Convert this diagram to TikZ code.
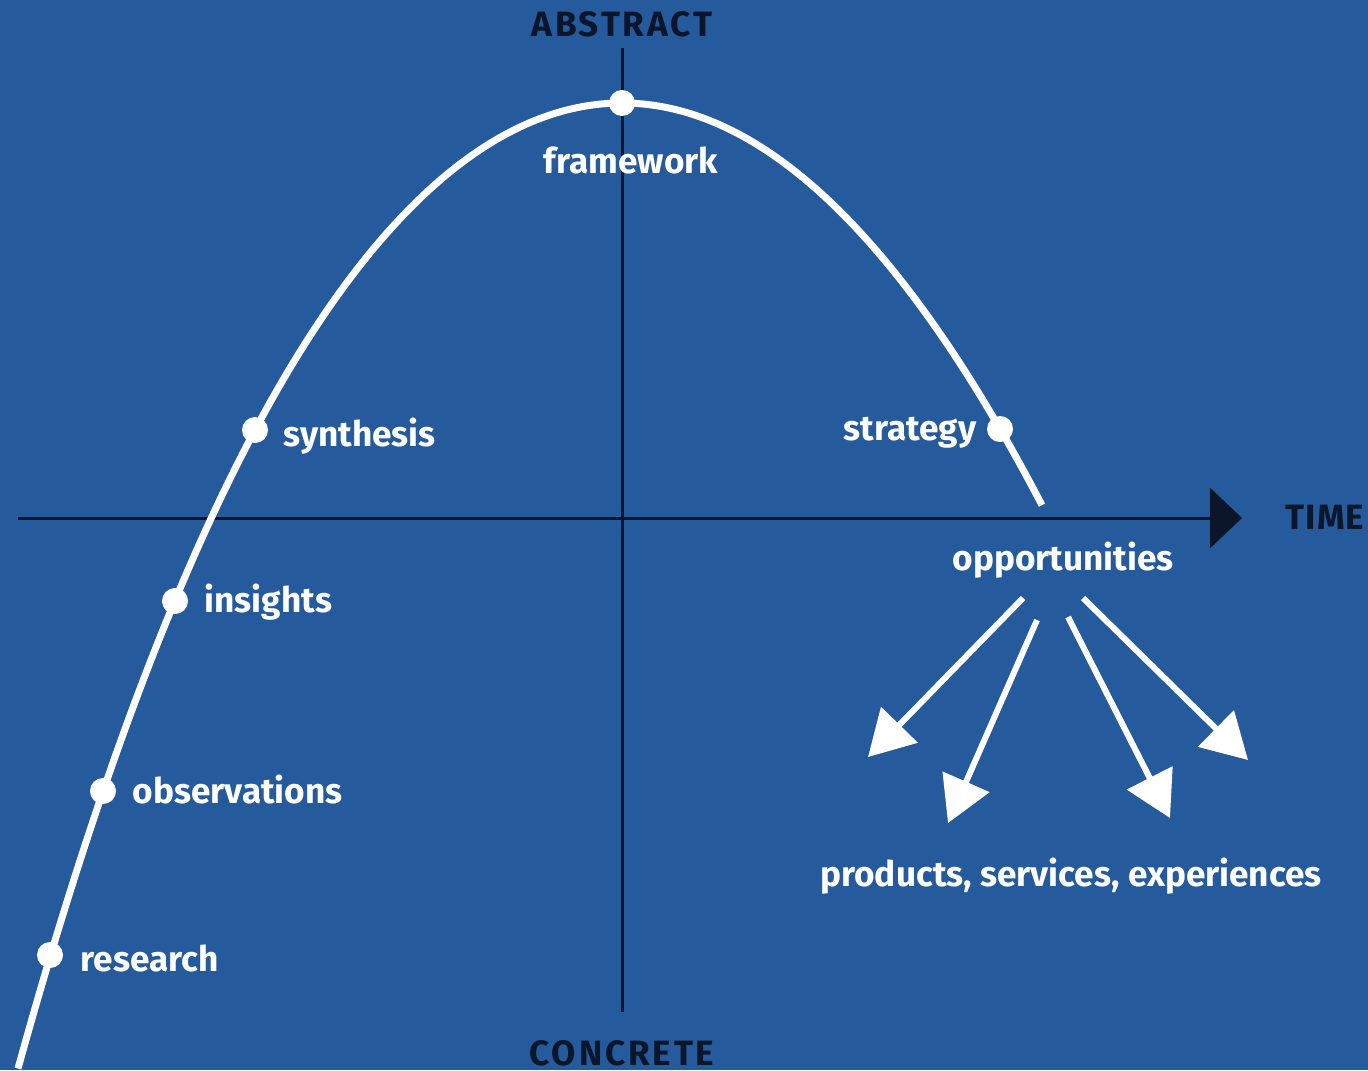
\documentclass[tikz,border=0pt]{standalone}
\usepackage{fontspec}
\setmainfont{Fira Sans}
\newfontfamily\capsfont{Fira Sans}[LetterSpace=8]
\newfontfamily\timefont{Fira Sans}[LetterSpace=3]
\usetikzlibrary{arrows.meta}
\definecolor{bg}{RGB}{37,90,156}
\definecolor{navy}{RGB}{12,22,42}
\begin{document}
\begin{tikzpicture}[x=0.01cm,y=-0.01cm,
  lab/.style={text=white,font=\bfseries\fontsize{10}{12}\selectfont,inner sep=0pt},
  axlab/.style={text=navy,font=\capsfont\bfseries\fontsize{10}{12}\selectfont,inner sep=0pt},
  timelab/.style={text=navy,font=\timefont\bfseries\fontsize{10}{12}\selectfont,inner sep=0pt},
  dot/.style={circle,fill=white,minimum size=0.26cm,inner sep=0pt},
  axisline/.style={draw=navy,line width=0.03cm},
  outarrow/.style={draw=white,line width=0.06cm,-{Triangle[length=0.45cm,width=0.5cm]}}]
\fill[bg] (0,0) rectangle (1368,1070);
\useasboundingbox (0,0) rectangle (1368,1070);
% axes
\coordinate (xl) at (18,518);
\coordinate (xr) at (1242,518);
\coordinate (yt) at (622,48);
\coordinate (yb) at (622,1012);
\draw[axisline,-{Triangle[length=0.32cm,width=0.6cm]}] (xl) -- (xr);
\draw[axisline] (yt) -- (yb);
% curve
\draw[white,line width=0.07cm,line join=round]
  plot[domain=-6.04:0,samples=120,variable=\u] ({622+100*\u},{103+23*\u*\u+0.095*\u*\u*\u*\u})
  -- plot[domain=0:4.2,samples=80,variable=\u] ({622+100*\u},{103+22.8*\u*\u});
% dots
\node[dot] (dres) at (50,955) {};
\node[dot] (dobs) at (103,791) {};
\node[dot] (dins) at (175,601) {};
\node[dot] (dsyn) at (255,430) {};
\node[dot] (dfra) at (622,103) {};
\node[dot] (dstr) at (1000,429) {};
% labels
\node[lab,anchor=base west] (tres) at (80,971) {research};
\node[lab,anchor=base west] (tobs) at (132,803) {observations};
\node[lab,anchor=base west] (tins) at (204,612) {insights};
\node[lab,anchor=base west] (tsyn) at (283,446) {synthesis};
\node[lab,anchor=base east] (tstr) at (977,440) {strategy};
\node[lab,anchor=base] (tfra) at (631,173) {framework};
\node[lab,anchor=base] (topp) at (1063,570) {opportunities};
\node[lab,anchor=base] (tprod) at (1071,886) {products, services, experiences};
\node[axlab,anchor=base] (tabs) at (622,37) {ABSTRACT};
\node[axlab,anchor=base] (tcon) at (622,1065) {CONCRETE};
\node[timelab,anchor=base west] (ttime) at (1285,529) {TIME};
% outgoing arrows
\coordinate (a1s) at (1023,598); \coordinate (a1e) at (868,757);
\coordinate (a2s) at (1037,620); \coordinate (a2e) at (948,823);
\coordinate (a3s) at (1068,617); \coordinate (a3e) at (1170,818);
\coordinate (a4s) at (1083,598); \coordinate (a4e) at (1248,760);
\draw[outarrow] (a1s) -- (a1e);
\draw[outarrow] (a2s) -- (a2e);
\draw[outarrow] (a3s) -- (a3e);
\draw[outarrow] (a4s) -- (a4e);
\end{tikzpicture}
\end{document}
